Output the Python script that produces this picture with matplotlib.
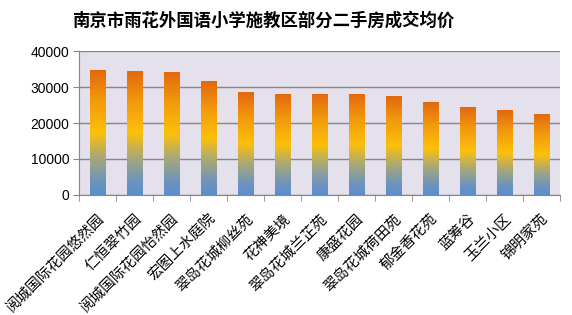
import numpy as np
import matplotlib.pyplot as plt
from matplotlib.colors import LinearSegmentedColormap

plt.rcParams['font.family'] = ['Noto Sans CJK SC', 'DejaVu Sans']

names = ['阅城国际花园悠然园', '仁恒翠竹园', '阅城国际花园怡然园', '宏图上水庭院',
         '翠岛花城柳丝苑', '花神美境', '翠岛花城兰芷苑', '康盛花园',
         '翠岛花城荷田苑', '郁金香花苑', '蓝筹谷', '玉兰小区', '锦明家苑']
prices = [34500, 34200, 33900, 31400, 28400, 28050, 28000, 27800,
          27500, 25800, 24200, 23600, 22500]
yticks = [0, 10000, 20000, 30000, 40000]

cmap = LinearSegmentedColormap.from_list('bar', [
    (0.0, '#5b8fcb'), (0.1, '#6a93c0'), (0.3, '#a8a878'),
    (0.5, '#fdc00a'), (0.75, '#f29a0c'), (1.0, '#e3680e')])
grad = np.linspace(0, 1, 256).reshape(-1, 1)

fig = plt.figure(figsize=(5.72, 3.15), dpi=100)
ax = fig.add_axes([79 / 572, 1 - 195 / 315, 481 / 572, 144 / 315])
ax.set_facecolor('#e4e0ec')

w = 0.41
for i, v in enumerate(prices):
    ax.imshow(grad, cmap=cmap, origin='lower', aspect='auto',
              extent=[i - w / 2, i + w / 2, 0, v], zorder=3)

ax.set_xlim(-0.5, len(names) - 0.5)
ax.set_ylim(0, 40000)
ax.set_yticks(yticks)
ax.set_yticklabels([str(t) for t in yticks], family='Liberation Sans', fontsize=10)
ax.yaxis.grid(True, color='#868686', linewidth=1)
ax.set_axisbelow(True)

ax.set_xticks(np.arange(len(names)))
ax.set_xticklabels(names, rotation=45, ha='right', rotation_mode='anchor',
                   fontsize=10.5)
ax.set_xticks(np.arange(len(names) + 1) - 0.5, minor=True)
ax.tick_params(axis='x', which='major', length=0, pad=12)
ax.tick_params(axis='x', which='minor', length=4, color='#868686', direction='out')
ax.tick_params(axis='y', length=4, color='#868686', pad=3)

for s in ['top', 'right']:
    ax.spines[s].set_visible(False)
for s in ['left', 'bottom']:
    ax.spines[s].set_color('#868686')

fig.text(263.5 / 572, 1 - 21 / 315, '南京市雨花外国语小学施教区部分二手房成交均价',
         ha='center', va='center', fontsize=12.5, fontweight='bold')

fig.savefig('out.png', dpi=100)
